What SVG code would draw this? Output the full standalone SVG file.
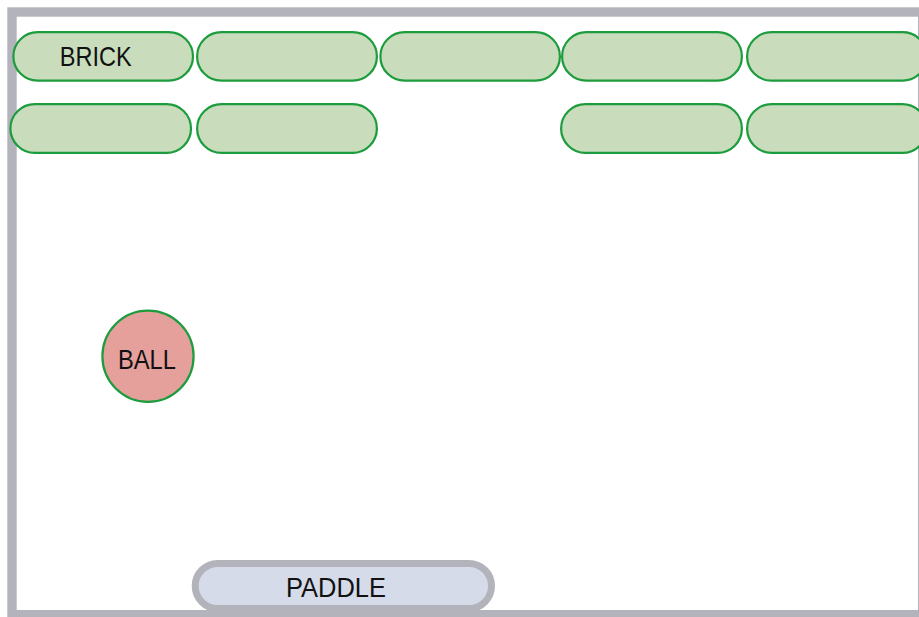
<svg xmlns="http://www.w3.org/2000/svg" width="919" height="617" viewBox="0 0 919 617">
<style>
.brick{fill:#c9ddbd;stroke:#1c9c3d;stroke-width:2.2}
.ball{fill:#e6a09c;stroke:#1c9c3d;stroke-width:2.2}
.paddle{fill:#d6dbea;stroke:#b3b3bb;stroke-width:7}
.frame{fill:#ffffff;stroke:#b3b3bb;stroke-width:9.4}
.lbl{font-family:"Liberation Sans",Arial,sans-serif;font-size:27.5px;fill:#111111;text-anchor:middle}
</style>
<rect width="919" height="617" fill="#ffffff"/>
<g id="frame"><rect class="frame" x="12" y="12" width="910.7" height="602.7"/></g>
<g id="brick-r1-1"><rect class="brick" x="13.4" y="32.1" width="179.6" height="48.6" rx="24.3"/><text class="lbl" x="95.8" y="66.3" textLength="72" lengthAdjust="spacingAndGlyphs">BRICK</text></g>
<g id="brick-r1-2"><rect class="brick" x="197.1" y="32.1" width="179.8" height="48.6" rx="24.3"/></g>
<g id="brick-r1-3"><rect class="brick" x="380.4" y="32.1" width="179.5" height="48.6" rx="24.3"/></g>
<g id="brick-r1-4"><rect class="brick" x="562.1" y="32.1" width="179.8" height="48.6" rx="24.3"/></g>
<g id="brick-r1-5"><rect class="brick" x="747.1" y="32.1" width="179.8" height="48.6" rx="24.3"/></g>
<g id="brick-r2-1"><rect class="brick" x="10.4" y="104.1" width="180.6" height="48.8" rx="24.4"/></g>
<g id="brick-r2-2"><rect class="brick" x="197.1" y="104.1" width="179.8" height="48.8" rx="24.4"/></g>
<g id="brick-r2-4"><rect class="brick" x="561.1" y="104.1" width="180.8" height="48.8" rx="24.4"/></g>
<g id="brick-r2-5"><rect class="brick" x="747.1" y="104.1" width="179.8" height="48.8" rx="24.4"/></g>
<g id="ball"><circle class="ball" cx="148" cy="356.3" r="45.6"/><text class="lbl" x="147" y="369.3" textLength="58" lengthAdjust="spacingAndGlyphs">BALL</text></g>
<g id="paddle"><rect class="paddle" x="195.2" y="563.5" width="296.3" height="45" rx="22.5"/><text class="lbl" x="336" y="596.7" textLength="100" lengthAdjust="spacingAndGlyphs">PADDLE</text></g>
<g id="connectors"></g>
</svg>
